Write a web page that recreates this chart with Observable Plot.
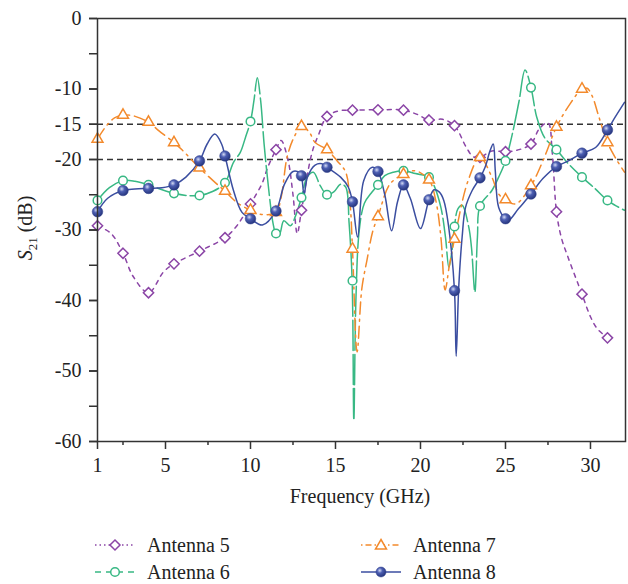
<!DOCTYPE html>
<html><head><meta charset="utf-8">
<script src="https://cdn.jsdelivr.net/npm/d3@7"></script>
<script src="https://cdn.jsdelivr.net/npm/@observablehq/plot@0.6"></script>
<style>
body{margin:0;background:#fff;font-family:"Liberation Serif","DejaVu Serif","Times New Roman",Times,"Noto Serif",FreeSerif,serif;}
#wrap{width:628px;height:584px;position:relative;overflow:hidden;background:#fff}
.item{position:absolute;display:flex;align-items:center;font-size:20px;color:#222;height:26px;white-space:nowrap}
.item svg{margin-right:12px}
</style></head><body><div id="wrap"></div>
<script>
// ---- data ----
const seriesNames = ["Antenna 5", "Antenna 6", "Antenna 7", "Antenna 8"];
const markerFreq = [1, 2.5, 4, 5.5, 7, 8.5, 10, 11.5, 13, 14.5, 16, 17.5, 19, 20.5, 22, 23.5, 25, 26.5, 28, 29.5, 31];
const ant5Markers = [-29.4, -33.3, -38.9, -34.8, -33.0, -31.1, -26.3, -18.6, -27.2, -13.9, -13.0, -12.95, -13.0, -14.4, -15.2, -19.7, -18.9, -17.8, -27.4, -39.1, -45.3];
const ant6Markers = [-25.8, -23.0, -23.6, -24.8, -25.1, -23.3, -14.6, -30.5, -25.4, -25.0, -37.2, -23.6, -21.6, -22.5, -29.5, -26.6, -20.2, -9.8, -18.6, -22.5, -25.8];
const ant7Markers = [-17.1, -13.7, -14.7, -17.6, -21.2, -24.5, -27.2, -27.5, -15.3, -18.6, -32.7, -28.1, -22.1, -22.9, -31.3, -19.7, -25.7, -23.7, -15.4, -10.0, -17.6];
const ant8Markers = [-27.4, -24.4, -24.1, -23.6, -20.2, -19.5, -28.4, -27.3, -22.3, -21.1, -26.0, -21.7, -23.6, -25.7, -38.6, -22.6, -28.4, -24.9, -21.0, -19.1, -15.8];

const ant5Curve = [[1,-29.4],[1.8,-30.5],[2.5,-33.3],[3.1,-36.6],[4,-38.9],[4.9,-35.9],[5.5,-34.8],[7,-33.0],[8.5,-31.1],[9.2,-29.4],[10,-26.3],[10.7,-23.3],[11.0,-21.2],[11.5,-18.6],[11.8,-17.3],[12.2,-20],[12.5,-25],[12.75,-30.5],[13,-27.2],[13.6,-19.2],[14.0,-16.5],[14.5,-13.9],[15.2,-13.1],[16,-13.0],[17.5,-12.95],[19,-13.0],[19.8,-13.6],[20.5,-14.4],[21.3,-14.3],[22,-15.2],[22.7,-18.3],[23.1,-19.6],[23.5,-19.7],[24.2,-18.8],[25,-18.9],[25.8,-18.6],[26.5,-17.8],[27.0,-15.6],[27.5,-14.8],[27.75,-19],[28,-27.4],[28.3,-31.2],[28.7,-34],[29.5,-39.1],[30.0,-42.3],[30.4,-44.0],[31,-45.3]];
const ant6Curve = [[1,-25.8],[1.7,-24.0],[2.5,-23.0],[3.2,-23.1],[4,-23.6],[4.8,-24.3],[5.5,-24.8],[6.2,-25.1],[7,-25.1],[7.8,-24.5],[8.5,-23.3],[9.0,-20.4],[9.4,-19.0],[9.7,-16.9],[10,-14.6],[10.2,-11.7],[10.4,-8.4],[10.6,-11.7],[10.8,-17.8],[11.1,-24.9],[11.33,-29.1],[11.5,-30.5],[11.7,-30.6],[11.96,-28.7],[12.35,-29.4],[12.65,-28.0],[13,-25.4],[13.33,-22.5],[13.7,-21.8],[14.1,-23.7],[14.5,-25.0],[14.9,-24.6],[15.3,-23.5],[15.6,-23.9],[15.8,-29],[15.98,-37.2],[16.08,-57],[16.2,-40],[16.4,-30],[16.7,-26.2],[17.15,-24.6],[17.5,-23.6],[17.9,-22.3],[18.4,-21.8],[19,-21.6],[19.7,-22.0],[20.5,-22.5],[20.8,-23.7],[21.2,-26.8],[21.47,-31.0],[21.67,-35.3],[21.85,-33],[22,-29.5],[22.2,-27],[22.45,-26.5],[22.84,-29.6],[23.0,-32.5],[23.2,-38.8],[23.35,-31],[23.5,-26.6],[24.2,-24.4],[24.6,-22.5],[25,-20.2],[25.4,-16.4],[25.8,-11.7],[26.15,-7.3],[26.5,-9.8],[26.84,-14.0],[27.3,-16.9],[28,-18.6],[28.7,-20.6],[29.5,-22.5],[30.3,-24.2],[31,-25.8],[31.45,-26.5],[32,-27.2]];
const ant7Curve = [[1,-17.1],[1.5,-15.3],[2.0,-14.1],[2.5,-13.7],[3.1,-13.8],[4,-14.7],[4.6,-15.9],[5.5,-17.6],[6.0,-18.7],[7,-21.2],[7.8,-23.0],[8.5,-24.5],[9.2,-26.1],[10,-27.2],[10.7,-27.8],[11.5,-27.5],[11.8,-25.4],[12.15,-19.7],[12.55,-16.9],[13,-15.3],[13.45,-16.1],[13.8,-17.6],[14.5,-18.6],[15.1,-20.2],[15.6,-21.8],[15.85,-26],[16,-32.7],[16.27,-47.3],[16.55,-38.3],[16.85,-34.3],[17.2,-30.1],[17.5,-28.1],[18.2,-23.5],[19,-22.1],[19.7,-21.6],[20.5,-22.9],[20.9,-25.8],[21.2,-31],[21.45,-38.5],[21.7,-35],[22,-31.3],[22.8,-23.0],[23.5,-19.7],[24.2,-22.5],[24.6,-24.9],[25,-25.7],[25.6,-26.3],[26.5,-23.7],[27.2,-20.2],[28,-15.4],[28.8,-12.1],[29.5,-10.0],[29.8,-9.9],[30.1,-11.0],[30.5,-14.0],[31,-17.6],[31.5,-19.9],[32,-21.8]];
const ant8Curve = [[1,-27.4],[1.6,-25.5],[2.5,-24.4],[3.2,-24.2],[4,-24.1],[4.8,-24.0],[5.5,-23.6],[6.2,-22.5],[7,-20.2],[7.45,-17.8],[7.9,-16.4],[8.3,-17.8],[8.5,-19.5],[9.0,-24.4],[9.5,-27.5],[10,-28.4],[10.7,-29.3],[11.5,-27.3],[12.0,-23.5],[12.5,-21.7],[12.9,-21.9],[13,-22.3],[13.15,-25.0],[13.35,-22.5],[13.8,-20.8],[14.2,-20.6],[14.5,-21.1],[15.3,-22.5],[15.75,-23.9],[16,-26.0],[16.3,-31.0],[16.66,-23.0],[17.16,-21.1],[17.5,-21.7],[17.9,-25],[18.3,-30.1],[18.65,-26],[19,-23.6],[19.4,-25.5],[20.0,-29.8],[20.5,-25.7],[20.8,-24.3],[21.1,-24.6],[21.37,-25.8],[21.66,-29.6],[22,-38.6],[22.1,-47.9],[22.25,-38.1],[22.45,-31.0],[22.65,-26.8],[23.04,-24.4],[23.5,-22.6],[23.8,-21.1],[24.1,-18.7],[24.28,-17.8],[24.4,-21.6],[24.6,-26.8],[25,-28.4],[25.2,-28.6],[25.76,-27.0],[26.5,-24.9],[27.2,-22.7],[28,-21.0],[28.7,-20.2],[29.5,-19.1],[30.3,-18.3],[31,-15.8],[31.45,-14.0],[32,-11.9]];

const xTickLabels = [1, 5, 10, 15, 20, 25, 30];
const xMinorTicks = [2.5, 7.5, 12.5, 17.5, 22.5, 27.5];
const yTickLabels = [0, -10, -15, -20, -30, -40, -50, -60];
const yAllTicks = [0, -5, -10, -15, -20, -25, -30, -35, -40, -45, -50, -55, -60];
const thresholds = [-15, -20];

// ---- styles ----
const c5 = "#8b45a6", c6 = "#38b884", c7 = "#f38a2c", c8 = "#3b4ea0";
const font = "'Liberation Serif', 'DejaVu Serif', 'Times New Roman', Times, 'Noto Serif', FreeSerif, serif";

const mk = (vals) => markerFreq.map((f, i) => ({f, v: vals[i]}));
const lineOpts = {x: d => d[0], y: d => d[1], curve: "catmull-rom", strokeWidth: 1.5};

const plot = Plot.plot({
  width: 628, height: 525,
  marginLeft: 97, marginRight: 3, marginTop: 18, marginBottom: 84,
  x: {domain: [1, 32.06]},
  y: {domain: [-60, 0]},
  style: {fontFamily: font, fontSize: "20px", color: "#222", background: "#fff", overflow: "visible"},
  marks: [
    Plot.ruleY(thresholds, {stroke: "#333", strokeWidth: 1.4, strokeDasharray: "6,4"}),
    Plot.line(ant5Curve, {...lineOpts, stroke: c5, strokeDasharray: "4,5"}),
    Plot.line(ant6Curve, {...lineOpts, stroke: c6, strokeDasharray: "30,4"}),
    Plot.line(ant7Curve, {...lineOpts, stroke: c7, strokeDasharray: "12,5,2,5"}),
    Plot.line(ant8Curve, {...lineOpts, stroke: c8}),
    Plot.dot(mk(ant5Markers), {x: "f", y: "v", symbol: "diamond2", r: 4.6, stroke: c5, fill: "white", strokeWidth: 1.5}),
    Plot.dot(mk(ant6Markers), {x: "f", y: "v", symbol: "circle", r: 4.3, stroke: c6, fill: "white", strokeWidth: 1.5}),
    Plot.dot(mk(ant7Markers), {x: "f", y: "v", symbol: "triangle2", r: 5.2, stroke: c7, fill: "white", strokeWidth: 1.5}),
    Plot.dot(mk(ant8Markers), {x: "f", y: "v", r: 5.3, fill: "url(#sphere)", stroke: "#2e3f8c", strokeWidth: 0.5}),
    Plot.frame({stroke: "#333", strokeWidth: 1.5}),
    Plot.axisX({ticks: xTickLabels, tickSize: 8, tickPadding: 8, tickFormat: d => String(d), label: null, stroke: "#333", strokeWidth: 1.5}),
    Plot.axisX({ticks: xMinorTicks, tickSize: 4, tickFormat: () => "", label: null, stroke: "#333", strokeWidth: 1.5}),
    Plot.axisY({ticks: yAllTicks, tickSize: 8, tickFormat: () => "", label: null, stroke: "#333", strokeWidth: 1.5}),
    Plot.axisY({ticks: yTickLabels, tickSize: 8, tickPadding: 8, tickFormat: d => String(d), label: null, stroke: "#333", strokeWidth: 1.5})
  ]
});

const svg = d3.select(plot);
const defs = svg.insert("defs", ":first-child");
const grad = defs.append("radialGradient").attr("id", "sphere").attr("cx", "38%").attr("cy", "35%").attr("r", "65%");
grad.append("stop").attr("offset", "0%").attr("stop-color", "#d4dbf5");
grad.append("stop").attr("offset", "40%").attr("stop-color", "#4d5fb3");
grad.append("stop").attr("offset", "100%").attr("stop-color", "#27367e");

// axis titles
svg.append("text").attr("x", 360).attr("y", 503).attr("text-anchor", "middle")
  .attr("font-family", font).attr("font-size", 20).attr("fill", "#222").text("Frequency (GHz)");
const yl = svg.append("text").attr("transform", "translate(32,228) rotate(-90)").attr("text-anchor", "middle")
  .attr("font-family", font).attr("font-size", 20).attr("fill", "#222");
yl.append("tspan").attr("font-style", "italic").text("S");
yl.append("tspan").attr("font-size", 13).attr("dy", 5).text("21");
yl.append("tspan").attr("dy", -5).text(" (dB)");

const wrap = document.getElementById("wrap");
wrap.appendChild(plot);

// legend (below the svg)
const legendItems = [
  {name: seriesNames[0], color: c5, dash: "1.5,3", sym: "diamond", left: 95, top: 532},
  {name: seriesNames[1], color: c6, dash: "6,5", sym: "circle", left: 95, top: 559},
  {name: seriesNames[2], color: c7, dash: "1.5,3,6,3", sym: "triangle", left: 361, top: 532},
  {name: seriesNames[3], color: c8, dash: null, sym: "sphere", left: 361, top: 559}
];
for (const it of legendItems) {
  const div = document.createElement("div");
  div.className = "item";
  div.style.left = it.left + "px";
  div.style.top = it.top + "px";
  let marker = "";
  if (it.sym === "diamond") marker = `<path d="M20,5 L25,10 L20,15 L15,10 Z" fill="white" stroke="${it.color}" stroke-width="1.5"/>`;
  if (it.sym === "circle") marker = `<circle cx="20" cy="10" r="4.3" fill="white" stroke="${it.color}" stroke-width="1.5"/>`;
  if (it.sym === "triangle") marker = `<path d="M20,4.5 L25.5,14 L14.5,14 Z" fill="white" stroke="${it.color}" stroke-width="1.5"/>`;
  if (it.sym === "sphere") marker = `<circle cx="20" cy="10" r="5" fill="url(#sphere)" stroke="#2e3f8c" stroke-width="0.5"/>`;
  div.innerHTML = `<svg width="40" height="20" viewBox="0 0 40 20"><line x1="0" y1="10" x2="40" y2="10" stroke="${it.color}" stroke-width="1.5" ${it.dash ? `stroke-dasharray="${it.dash}"` : ""}/>${marker}</svg><span>${it.name}</span>`;
  wrap.appendChild(div);
}
</script></body></html>
